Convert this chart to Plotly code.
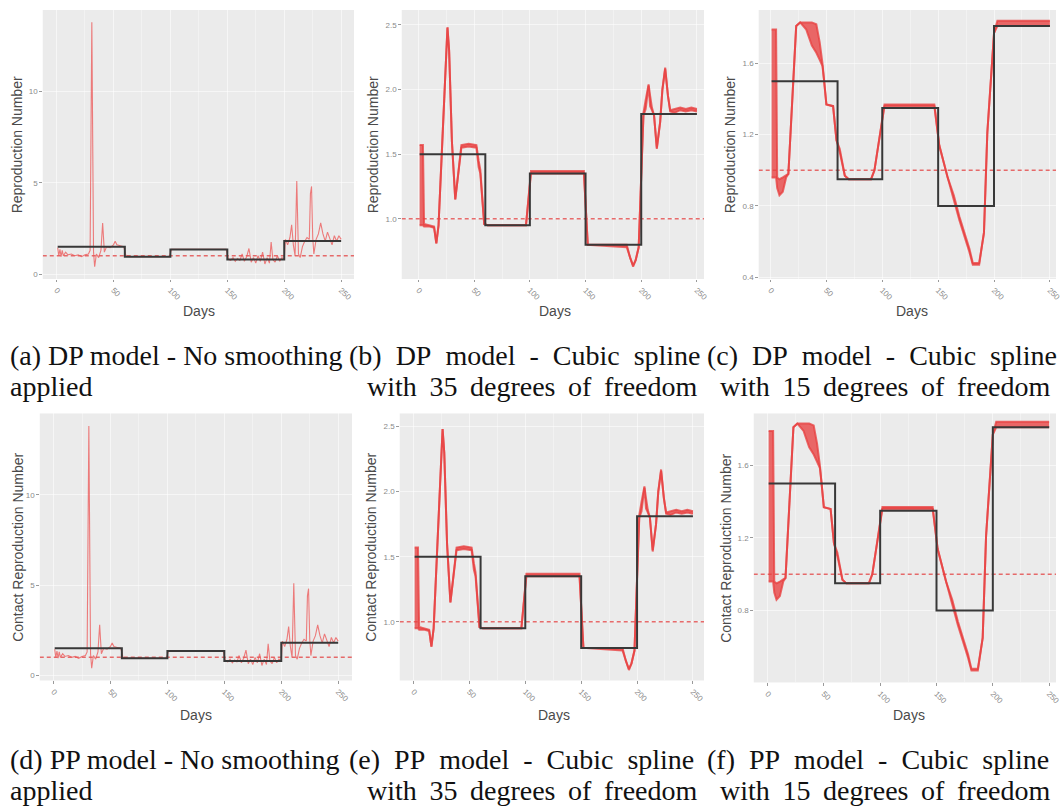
import plotly.graph_objects as go

W, H = 1062, 811

# ---------------- data ----------------
day_ticks = [0, 50, 100, 150, 200, 250]
day_tick_text = ["0", "50", "100", "150", "200", "250"]

# true (piecewise-constant) reproduction number
step_days = [1, 60, 100, 150, 200, 250]
step_vals = [1.5, 0.95, 1.35, 0.8, 1.81, 1.81]

threshold = 1.0

# estimate with no smoothing
raw_days = [1, 2, 3, 4, 5, 6, 8, 10, 13, 16, 19, 22, 25, 28, 29.5, 31, 32.5, 33.5,
            35, 37, 39, 40.5, 42, 44, 47, 50, 51.5, 53, 56, 59, 61, 64, 70, 80, 90,
            99, 101, 110, 120, 130, 140, 149, 151, 153, 155, 157, 159, 161, 163, 165,
            167, 169, 171, 173, 175, 177, 179, 181, 183, 185, 187, 188.5, 190, 192,
            194, 196, 198, 200, 201, 203, 205, 206.5, 208, 209.5, 211, 212.5, 214,
            216, 218, 220, 222, 223, 224, 225, 226, 228, 230, 232, 234, 236, 238,
            240, 242, 244, 246, 248, 250]
raw_vals = [1.45, 1.0, 1.35, 0.95, 1.3, 1.0, 1.2, 1.05, 1.1, 1.0, 1.05, 0.95, 1.05,
            1.1, 1.3, 13.8, 1.2, 0.4, 1.1, 0.9, 1.3, 2.8, 1.2, 1.5, 1.45, 1.6, 1.8,
            1.6, 1.55, 1.5, 1.0, 0.95, 0.97, 0.95, 0.96, 0.95, 1.35, 1.36, 1.35,
            1.36, 1.35, 1.35, 0.8, 0.75, 0.9, 0.7, 0.85, 0.75, 1.1, 0.7, 0.95, 1.4,
            0.65, 0.9, 0.6, 1.0, 0.7, 1.2, 0.55, 0.9, 0.6, 1.75, 0.8, 0.65, 1.0, 0.7,
            0.9, 0.8, 1.9, 1.6, 2.0, 2.7, 1.6, 1.0, 5.1, 1.1, 0.9, 1.5, 1.8, 2.0, 1.9,
            4.4, 4.8, 2.0, 1.1, 1.9, 2.2, 2.8, 2.2, 1.8, 2.3, 1.9, 1.6, 2.1, 1.8, 2.1,
            1.9]

# cubic spline, 35 degrees of freedom (lower / upper envelope of the draws)
s35_days = [1, 4, 5, 10, 14, 16, 18, 26, 27.5, 30, 33, 35, 38.5, 45, 52, 54, 55.5,
            59, 62, 96.5, 101, 148.5, 152, 187, 190, 192.7, 195, 197.7, 202, 204,
            206.6, 208, 209.6, 211.5, 214, 217, 219, 221.5, 224, 226, 230, 235, 240,
            245, 250]
s35_lo = [0.95, 0.95, 0.94, 0.94, 0.93, 0.81, 0.95, 2.48, 2.3, 1.6, 1.15, 1.3, 1.55,
          1.56, 1.55, 1.40, 1.35, 0.96, 0.95, 0.95, 1.35, 1.35, 0.80, 0.78, 0.70,
          0.63, 0.68, 0.78, 1.80, 1.85, 2.03, 1.87, 1.84, 1.80, 1.54, 1.75, 2.0,
          2.16, 1.95, 1.83, 1.82, 1.84, 1.83, 1.84, 1.83]
s35_hi = [1.57, 1.57, 0.96, 0.95, 0.94, 0.81, 0.95, 2.48, 2.3, 1.6, 1.15, 1.3, 1.57,
          1.58, 1.57, 1.45, 1.38, 0.96, 0.95, 0.95, 1.37, 1.37, 0.80, 0.80, 0.70,
          0.64, 0.68, 0.78, 1.82, 1.92, 2.04, 1.95, 1.86, 1.80, 1.55, 1.75, 2.0,
          2.17, 1.95, 1.84, 1.85, 1.86, 1.85, 1.86, 1.85]

# cubic spline, 15 degrees of freedom (lower / upper envelope of the draws)
s15_days = [1, 5, 6, 8, 11, 14, 16, 23, 26.5, 32, 37, 41, 44, 46.5, 48, 50, 56, 59,
            62, 66.5, 70, 90, 93, 102, 146.6, 151, 158.5, 164, 169, 178, 181, 186.7,
            191, 194, 200, 203, 250]
s15_lo = [0.96, 0.96, 0.90, 0.86, 0.88, 0.96, 0.98, 1.81, 1.83, 1.79, 1.70, 1.66,
          1.62, 1.585, 1.5, 1.37, 1.36, 1.17, 1.10, 0.97, 0.95, 0.95, 1.0, 1.36,
          1.36, 1.14, 0.96, 0.84, 0.72, 0.54, 0.47, 0.47, 0.65, 1.21, 1.77, 1.81,
          1.81]
s15_hi = [1.79, 1.79, 0.96, 0.95, 0.96, 0.97, 0.98, 1.81, 1.83, 1.83, 1.83, 1.82,
          1.72, 1.60, 1.5, 1.37, 1.36, 1.17, 1.12, 0.97, 0.95, 0.95, 1.0, 1.37,
          1.37, 1.14, 0.96, 0.86, 0.74, 0.56, 0.48, 0.48, 0.65, 1.21, 1.77, 1.84,
          1.84]

NB = "\u00a0"
TS = " \u2009"
captions = [
    (f"(a){NB}DP model - No smoothing", "applied"),
    (f"(b){NB*2}DP{NB*2}model{NB*2}-{NB*2}Cubic{NB*2}spline",
     f"with{TS}35{TS}degrees{TS}of{TS}freedom"),
    (f"(c){NB*2}DP{NB*2}model{NB*2}-{NB*2}Cubic{NB*2}spline",
     f"with{TS}15{TS}degrees{TS}of{TS}freedom"),
    (f"(d){NB}PP model - No smoothing", "applied"),
    (f"(e){NB*2}PP{NB*2}model{NB*2}-{NB*2}Cubic{NB*2}spline",
     f"with{TS}35{TS}degrees{TS}of{TS}freedom"),
    (f"(f){NB*2}PP{NB*2}model{NB*2}-{NB*2}Cubic{NB*2}spline",
     f"with{TS}15{TS}degrees{TS}of{TS}freedom"),
]

# ---------------- styling ----------------
RED_RAW = "rgba(236,84,84,0.75)"
RED = "rgba(232,64,64,0.78)"
BLACK = "#383838"
DASH = "rgba(228,72,72,0.8)"
PANEL_BG = "#EBEBEB"
GRID = "rgba(255,255,255,0.55)"
TICK_FONT = dict(family="Liberation Sans, Arial", size=8, color="#8a8a8a")
TITLE_FONT = dict(family="Liberation Sans, Arial", size=14, color="#4a4a4a")
CAP_FONT = dict(family="Liberation Serif, Times New Roman", size=28, color="#111111")

panels = [
    # kind, left, right, top, bottom (px), x of day 1, px per day, y range, y ticks
    dict(kind="raw", L=43, R=356, T=10, B=280, d1=58, ppd=1.145, yr=[-0.27, 14.47],
         yt=[0, 5, 10], ytt=["0", "5", "10"], title="Reproduction Number",
         tx=18, dx=200, dy=312, cx=(8, 8), cy=(357, 388)),
    dict(kind="s35", L=404, R=708, T=10, B=280, d1=422, ppd=1.12, yr=[0.535, 2.615],
         yt=[1.0, 1.5, 2.0, 2.5], ytt=["1.0", "1.5", "2.0", "2.5"],
         title="Reproduction Number", tx=376, dx=558, dy=312, cx=(349, 367), cy=(357, 388)),
    dict(kind="s15", L=763, R=1062, T=10, B=280, d1=776, ppd=1.124, yr=[0.39, 1.9],
         yt=[0.4, 0.8, 1.2, 1.6], ytt=["0.4", "0.8", "1.2", "1.6"],
         title="Reproduction Number", tx=735, dx=917, dy=312, cx=(709, 722), cy=(357, 388)),
    dict(kind="raw", L=40, R=354, T=415, B=683, d1=55, ppd=1.145, yr=[-0.28, 14.5],
         yt=[0, 5, 10], ytt=["0", "5", "10"], title="Contact Reproduction Number",
         tx=18, dx=197, dy=718, cx=(8, 8), cy=(762, 793)),
    dict(kind="s35", L=402, R=708, T=415, B=683, d1=417, ppd=1.124, yr=[0.55, 2.6],
         yt=[1.0, 1.5, 2.0, 2.5], ytt=["1.0", "1.5", "2.0", "2.5"],
         title="Contact Reproduction Number", tx=373, dx=557, dy=718, cx=(349, 367), cy=(762, 793)),
    dict(kind="s15", L=758, R=1062, T=415, B=685, d1=773, ppd=1.133, yr=[0.404, 1.886],
         yt=[0.4, 0.8, 1.2, 1.6], ytt=["0.4", "0.8", "1.2", "1.6"],
         title="Contact Reproduction Number", tx=730, dx=914, dy=718, cx=(709, 722), cy=(762, 793)),
]

series = {
    "s35": (s35_days, s35_lo, s35_hi),
    "s15": (s15_days, s15_lo, s15_hi),
}

fig = go.Figure()
layout = {}
annotations = []

for i, p in enumerate(panels, start=1):
    xa = "x" if i == 1 else f"x{i}"
    ya = "y" if i == 1 else f"y{i}"
    xr = [1 + (p["L"] - p["d1"]) / p["ppd"], 1 + (p["R"] - p["d1"]) / p["ppd"]]

    common = dict(xaxis=xa, yaxis=ya, showlegend=False, hoverinfo="skip")

    # reference line R = 1 across the whole panel (above the grid, under the curves)
    fig.add_trace(go.Scatter(x=xr, y=[threshold, threshold], mode="lines",
                             line=dict(color=DASH, width=1.5, dash="4px,3px"), **common))

    if p["kind"] == "raw":
        fig.add_trace(go.Scatter(x=raw_days, y=raw_vals, mode="lines",
                                 line=dict(color=RED_RAW, width=1.1), **common))
    else:
        d, lo, hi = series[p["kind"]]
        fig.add_trace(go.Scatter(x=d, y=lo, mode="lines",
                                 line=dict(color=RED, width=2), **common))
        fig.add_trace(go.Scatter(x=d, y=hi, mode="lines", fill="tonexty",
                                 fillcolor=RED, line=dict(color=RED, width=2), **common))
    fig.add_trace(go.Scatter(x=step_days, y=step_vals, mode="lines",
                             line=dict(color=BLACK, width=2, shape="hv"), **common))

    ax = dict(domain=[p["L"] / W, p["R"] / W], range=xr, anchor=ya,
              tickvals=day_ticks, ticktext=day_tick_text, tickangle=45,
              ticklabeloverflow="allow",
              tickfont=TICK_FONT, ticks="outside", ticklen=2.5, tickcolor="#9a9a9a",
              showgrid=True, gridcolor=GRID, gridwidth=1,
              minor=dict(showgrid=True, gridcolor="rgba(255,255,255,0.35)", gridwidth=0.6,
                         tickvals=[25, 75, 125, 175, 225]),
              zeroline=False, showline=False, fixedrange=True)
    ay = dict(domain=[1 - p["B"] / H, 1 - p["T"] / H], range=p["yr"], anchor=xa,
              tickvals=p["yt"], ticktext=p["ytt"], tickfont=TICK_FONT,
              ticks="outside", ticklen=2.5, tickcolor="#9a9a9a",
              showgrid=True, gridcolor=GRID, gridwidth=1,
              zeroline=False, showline=False, fixedrange=True)
    layout["xaxis" if i == 1 else f"xaxis{i}"] = ax
    layout["yaxis" if i == 1 else f"yaxis{i}"] = ay

    annotations.append(dict(text=p["title"], textangle=-90, xref="paper", yref="paper",
                            x=p["tx"] / W, y=1 - (p["T"] + p["B"]) / 2 / H,
                            xanchor="center", yanchor="middle", showarrow=False,
                            font=TITLE_FONT))
    annotations.append(dict(text="Days", xref="paper", yref="paper",
                            x=p["dx"] / W, y=1 - p["dy"] / H, xanchor="center",
                            yanchor="middle", showarrow=False, font=TITLE_FONT))
    line1, line2 = captions[i - 1]
    annotations.append(dict(text=line1, xref="paper", yref="paper",
                            x=p["cx"][0] / W, y=1 - p["cy"][0] / H, xanchor="left",
                            yanchor="middle", showarrow=False, font=CAP_FONT))
    annotations.append(dict(text=line2, xref="paper", yref="paper",
                            x=p["cx"][1] / W, y=1 - p["cy"][1] / H, xanchor="left",
                            yanchor="middle", showarrow=False, font=CAP_FONT))

fig.update_layout(
    width=W, height=H, margin=dict(l=0, r=0, t=0, b=0),
    paper_bgcolor="white", plot_bgcolor=PANEL_BG,
    annotations=annotations, **layout,
)

fig.write_html("out.html", config={"displayModeBar": False})
